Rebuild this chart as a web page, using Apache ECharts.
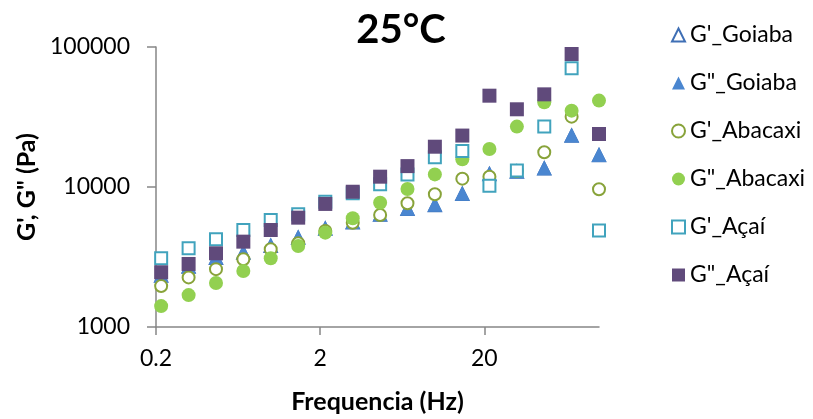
<!DOCTYPE html>
<html>
<head>
<meta charset="utf-8">
<script src="https://cdn.jsdelivr.net/npm/echarts@6/dist/echarts.min.js"></script>
<style>
html,body{margin:0;padding:0;background:#fff;}
#chart{width:813px;height:419px;}
</style>
</head>
<body>
<div id="chart"></div>
<script>
// Frequencies (Hz)
const freq = [0.215, 0.316, 0.464, 0.681, 1, 1.47, 2.15, 3.16, 4.64, 6.81, 10, 14.7, 21.5, 31.6, 46.4, 68.1, 100];
// Moduli (Pa)
const gp_goiaba  = [2330, 2700, 3120, 3400, 3800, 4350, 5050, 5600, 6350, 7000, 7450, 8950, 12400, 12900, 13600, 23300, 16900];
const gpp_goiaba = [2350, 2730, 3160, 3430, 3850, 4390, 5100, 5660, 6420, 7050, 7520, 9020, 12500, 13000, 13700, 23500, 17100];
const gp_abacaxi  = [1960, 2260, 2590, 3050, 3590, 3960, 4850, 5560, 6310, 7650, 8870, 11470, 11850, 13000, 17700, 31800, 9630];
const gpp_abacaxi = [1410, 1690, 2060, 2510, 3100, 3790, 4720, 5980, 7720, 9680, 12300, 15800, 18700, 27000, 40300, 35100, 41400];
const gp_acai  = [3100, 3650, 4230, 4930, 5810, 6380, 7850, 9020, 10450, 12300, 16300, 18100, 10200, 13100, 27000, 70400, 4880];
const gpp_acai = [2460, 2820, 3360, 4070, 4930, 6040, 7570, 9250, 11850, 14100, 19400, 23300, 44900, 35900, 45900, 89100, 23900];
const seriesNames = ["G'_Goiaba", "G\"_Goiaba", "G'_Abacaxi", "G\"_Abacaxi", "G'_Açaí", "G\"_Açaí"];
const xTicks = [0.2, 2, 20];
const yTicks = [1000, 10000, 100000];
const title = "25°C";
const xName = "Frequencia (Hz)";
const yName = "G', G\" (Pa)";

const FONT = 'Lato';
const pair = arr => freq.map((f, i) => [f, arr[i]]);

const styles = [
  {symbol: 'triangle', size: 13, item: {color: '#ffffff', borderColor: '#3f6fb5', borderWidth: 1.5, opacity: 1}},
  {symbol: 'triangle', size: 15, item: {color: '#4a86d0', opacity: 1}},
  {symbol: 'circle', size: 12, item: {color: '#ffffff', borderColor: '#88a33a', borderWidth: 2, opacity: 1}},
  {symbol: 'circle', size: 14, item: {color: '#92d050', opacity: 1}},
  {symbol: 'rect', size: 12, item: {color: '#ffffff', borderColor: '#41a3bd', borderWidth: 2, opacity: 1}},
  {symbol: 'rect', size: 14, item: {color: '#604a7b', opacity: 1}}
];
const values = [gp_goiaba, gpp_goiaba, gp_abacaxi, gpp_abacaxi, gp_acai, gpp_acai];

const chart = echarts.init(document.getElementById('chart'), null, {renderer: 'canvas'});
chart.setOption({
  animation: false,
  backgroundColor: '#ffffff',
  textStyle: {fontFamily: FONT},
  title: {
    text: title, left: 396, top: 5, textAlign: 'center',
    textStyle: {fontFamily: FONT, fontWeight: 'bold', fontSize: 40, color: '#000'}
  },
  legend: {
    orient: 'vertical', left: 666, top: 18,
    itemWidth: 13, itemHeight: 13, itemGap: 24,
    textStyle: {fontFamily: FONT, fontSize: 23, color: '#000', lineHeight: 24},
    data: seriesNames
  },
  grid: {left: 156, right: 214, top: 47, bottom: 92, containLabel: false},
  xAxis: {
    type: 'log', logBase: 10, min: 0.2, max: 100,
    name: xName, nameLocation: 'middle', nameGap: 62,
    nameTextStyle: {fontFamily: FONT, fontWeight: 'bold', fontSize: 25, color: '#000'},
    axisLine: {show: true, onZero: false, lineStyle: {color: '#868686', width: 1.5}},
    axisTick: {show: true, length: 8, customValues: xTicks, lineStyle: {color: '#868686', width: 1.5}},
    axisLabel: {customValues: xTicks, margin: 20, fontFamily: FONT, fontSize: 23, color: '#000',
      formatter: v => String(+(+v).toPrecision(3))},
    splitLine: {show: false}, minorTick: {show: false}
  },
  yAxis: {
    type: 'log', logBase: 10, min: 1000, max: 100000,
    name: yName, nameLocation: 'middle', nameGap: 116, nameRotate: 90,
    nameTextStyle: {fontFamily: FONT, fontWeight: 'bold', fontSize: 25, color: '#000'},
    axisLine: {show: true, onZero: false, lineStyle: {color: '#868686', width: 1.5}},
    axisTick: {show: true, length: 9, customValues: yTicks, lineStyle: {color: '#868686', width: 1.5}},
    axisLabel: {customValues: yTicks, margin: 26, fontFamily: FONT, fontSize: 23, color: '#000',
      formatter: v => String(Math.round(v))},
    splitLine: {show: false}, minorTick: {show: false}
  },
  series: seriesNames.map((name, k) => ({
    name: name, type: 'scatter',
    symbol: styles[k].symbol, symbolSize: styles[k].size,
    itemStyle: styles[k].item,
    emphasis: {disabled: true},
    data: pair(values[k])
  }))
});
</script>
</body>
</html>
